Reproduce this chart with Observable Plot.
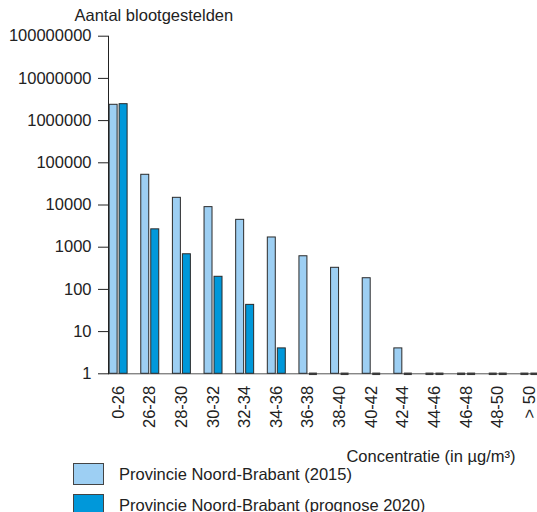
<!DOCTYPE html>
<html>
<head>
<meta charset="utf-8">
<script src="https://cdn.jsdelivr.net/npm/d3@7"></script>
<script src="https://cdn.jsdelivr.net/npm/@observablehq/plot@0.6"></script>
<style>
  body { margin: 0; background: #fff; font-family: "Liberation Sans", Arial, sans-serif; }
  #chart svg { display: block; overflow: visible; }
  #legend { padding-left: 73px; margin-top: 1px; font-size: 16.5px; color: #222; }
  .row { display: flex; align-items: center; height: 22px; margin-bottom: 9px; }
  .sw { width: 29px; height: 20px; border: 1px solid #444; margin-right: 15px; box-sizing: content-box; }
</style>
</head>
<body>
<div id="chart"></div>
<div id="legend"></div>
<script>
const categories = ["0-26", "26-28", "28-30", "30-32", "32-34", "34-36", "36-38", "38-40", "40-42", "42-44", "44-46", "46-48", "48-50", "> 50"];
const values2015 = [2370000, 52000, 14800, 8900, 4450, 1700, 610, 325, 184, 4, 0, 0, 0, 0];
const values2020 = [2450000, 2650, 680, 199, 43, 4, 0, 0, 0, 0, 0, 0, 0, 0];
const seriesNames = ["Provincie Noord-Brabant (2015)", "Provincie Noord-Brabant (prognose 2020)"];
const seriesColors = ["#9dcff3", "#0098da"];
const yTicks = [1, 10, 100, 1000, 10000, 100000, 1000000, 10000000, 100000000];
const yLabel = "Aantal blootgestelden";
const xLabel = "Concentratie (in µg/m³)";

const rows = [];
categories.forEach((c, i) => {
  rows.push({cat: c, s: 0, value: values2015[i]});
  rows.push({cat: c, s: 1, value: values2020[i]});
});
const positive = rows.filter(d => d.value > 0);
const zeros = rows.filter(d => d.value === 0);

const insets = [{insetLeft: 0.5, insetRight: 10}, {insetLeft: 10.5, insetRight: 0}];

const marks = [];
marks.push(Plot.ruleY([1], {stroke: "#555", strokeWidth: 1}));
[0, 1].forEach(s => {
  marks.push(Plot.rectY(positive.filter(d => d.s === s), {
    x: "cat", y1: () => 1, y2: "value",
    fill: seriesColors[s], stroke: "#2a2a2a", strokeWidth: 1,
    ...insets[s]
  }));
  marks.push(Plot.tickY(zeros.filter(d => d.s === s), {
    x: "cat", y: () => 1, stroke: "#3a3a3a", strokeWidth: 2.5,
    ...insets[s]
  }));
});
marks.push(Plot.frame({anchor: "left", stroke: "#222"}));
marks.push(Plot.axisY({ticks: yTicks, tickSize: 10, tickPadding: 7, tickFormat: d => String(d), label: null, stroke: "#222"}));
marks.push(Plot.axisX({tickSize: 0, tickPadding: 12, tickRotate: -90, label: null}));
marks.push(Plot.text([yLabel], {text: d => d, frameAnchor: "top-left", dx: -34, dy: -15, textAnchor: "start", lineAnchor: "bottom"}));
marks.push(Plot.text([xLabel], {text: d => d, frameAnchor: "bottom-right", dx: -22, dy: 88, textAnchor: "end", lineAnchor: "bottom"}));

const chart = Plot.plot({
  width: 537,
  height: 462,
  marginLeft: 108,
  marginRight: 0,
  marginTop: 35.7,
  marginBottom: 88.7,
  style: {fontSize: "16.5px", fontFamily: "'Liberation Sans', Arial, sans-serif", color: "#222", background: "#fff"},
  x: {type: "band", domain: categories, range: [108, 539], paddingInner: 0.416, paddingOuter: 0.02, round: false},
  y: {type: "log", domain: [1, 100000000]},
  marks
});
document.getElementById("chart").appendChild(chart);

const legend = document.getElementById("legend");
seriesNames.forEach((name, i) => {
  const row = document.createElement("div");
  row.className = "row";
  const sw = document.createElement("div");
  sw.className = "sw";
  sw.style.background = seriesColors[i];
  const t = document.createElement("span");
  t.textContent = name;
  row.appendChild(sw);
  row.appendChild(t);
  legend.appendChild(row);
});
</script>
</body>
</html>
